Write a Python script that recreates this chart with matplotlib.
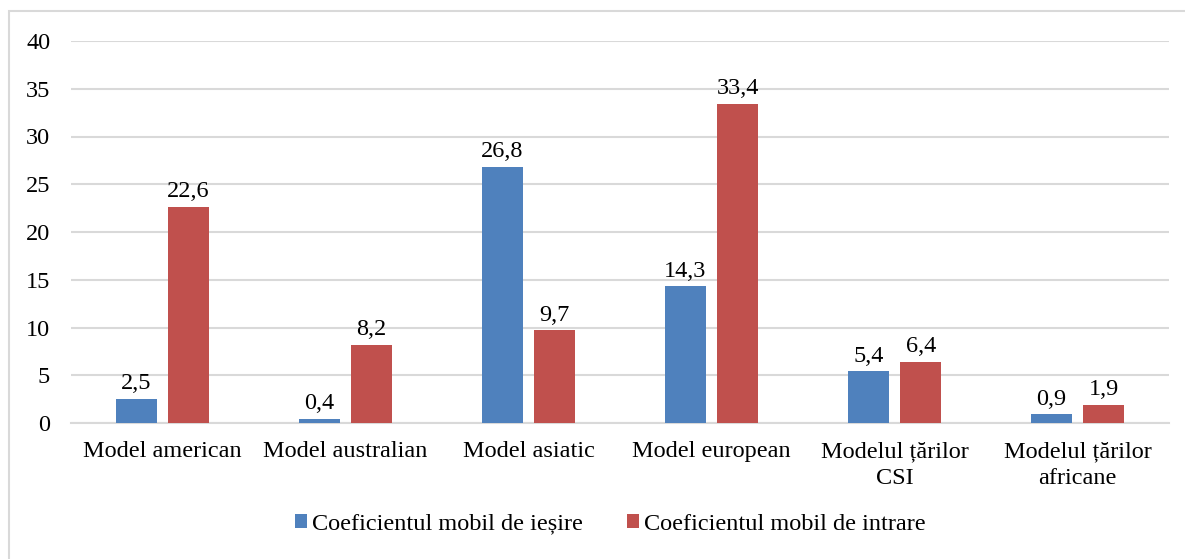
import numpy as np
import matplotlib.pyplot as plt
from matplotlib.patches import Rectangle

plt.rcParams['font.family'] = ['Liberation Serif', 'DejaVu Serif']
plt.rcParams['font.size'] = 17.5

categories = ['Model american', 'Model australian', 'Model asiatic',
              'Model european', 'Modelul țărilor\nCSI', 'Modelul țărilor\nafricane']
iesire = [2.5, 0.4, 26.8, 14.3, 5.4, 0.9]
intrare = [22.6, 8.2, 9.7, 33.4, 6.4, 1.9]
series_names = ['Coeficientul mobil de ieșire', 'Coeficientul mobil de intrare']
colors = ['#4F81BD', '#C0504D']

fig = plt.figure(figsize=(11.85, 5.59), dpi=100)
ax = fig.add_axes([71 / 1185, 1 - 423 / 559, 1098 / 1185, 382 / 559])

x = np.arange(len(categories))
w = 0.224
b1 = ax.bar(x - 0.143, iesire, w, color=colors[0], label=series_names[0], zorder=3)
b2 = ax.bar(x + 0.143, intrare, w, color=colors[1], label=series_names[1], zorder=3)

for bars, vals in ((b1, iesire), (b2, intrare)):
    for r, v in zip(bars, vals):
        ax.annotate(f'{v:.1f}'.replace('.', ','), (r.get_x() + r.get_width() / 2, v),
                    xytext=(0, 3.5), textcoords='offset points', ha='center', va='bottom')

ax.set_xlim(-0.5, len(categories) - 0.5)
ax.set_ylim(0, 40)
ax.set_yticks(range(0, 41, 5))
ax.set_xticks(x)
ax.set_xticklabels(categories, linespacing=1.4)
ax.yaxis.grid(True, color='#d9d9d9', linewidth=1.5, zorder=0)
ax.set_axisbelow(True)
for s in ['top', 'right', 'left']:
    ax.spines[s].set_visible(False)
ax.spines['bottom'].set_color('#d9d9d9')
ax.spines['bottom'].set_linewidth(1.5)
ax.tick_params(axis='both', length=0)
ax.tick_params(axis='y', pad=15)
ax.tick_params(axis='x', pad=13)

fig.legend(loc='center', bbox_to_anchor=(0.515, 1 - 524 / 559), ncol=2, frameon=False,
           handlelength=0.5, handleheight=0.5, handletextpad=0.2, columnspacing=1.8)

fig.patches.append(Rectangle((9 / 1185, -0.1), 1.2, 1 - 11 / 559 + 0.1,
                             transform=fig.transFigure, fill=False,
                             edgecolor='#d9d9d9', linewidth=1.5))

fig.savefig('out.png', dpi=100)
